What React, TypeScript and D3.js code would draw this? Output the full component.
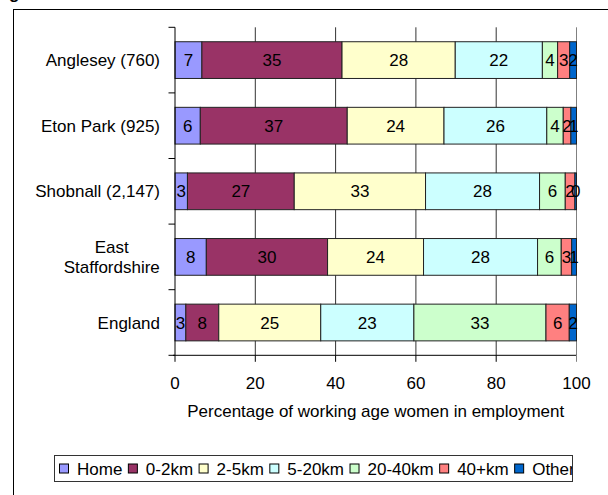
import React, { useEffect, useRef } from "react";
import * as d3 from "d3";

const categories = ["Anglesey (760)", "Eton Park (925)", "Shobnall (2,147)", "East Staffordshire", "England"];
const seriesNames = ["Home", "0-2km", "2-5km", "5-20km", "20-40km", "40+km", "Other"];
const seriesColors = ["#9999FF", "#993366", "#FFFFCC", "#CCFFFF", "#CCFFCC", "#FF8080", "#0066CC"];
const angleseyValues = [6.7, 34.9, 28.2, 21.7, 3.8, 3.0, 1.7];
const etonParkValues = [6.3, 36.6, 24.1, 25.6, 4.1, 1.9, 1.4];
const shobnallValues = [3.1, 26.6, 32.7, 28.4, 6.4, 2.4, 0.4];
const eastStaffsValues = [7.8, 30.2, 23.9, 28.4, 5.9, 2.6, 1.2];
const englandValues = [2.7, 8.2, 25.4, 23.2, 32.9, 5.8, 1.8];
const xTicks = [0, 20, 40, 60, 80, 100];
const xTitle = "Percentage of working age women in employment";

const FONT = "'Liberation Sans', Arial, sans-serif";

export default function App() {
  const ref = useRef<SVGSVGElement | null>(null);

  useEffect(() => {
    const svg = d3.select(ref.current);
    svg.selectAll("*").remove();
    const W = 608, H = 495;
    const left = 175, right = 576.5, top = 27.3, bottom = 355.3;
    const rows = [angleseyValues, etonParkValues, shobnallValues, eastStaffsValues, englandValues];

    svg.append("rect").attr("x", 0).attr("y", 0).attr("width", W).attr("height", H).attr("fill", "#fff");
    // cut-off title fragment
    svg.append("text").attr("x", 9).attr("y", -1).attr("font-family", FONT).attr("font-weight", "bold")
      .attr("font-size", 17).attr("fill", "#000").text("g");
    // outer frame
    svg.append("rect").attr("x", 13.5).attr("y", 9.5).attr("width", W).attr("height", H)
      .attr("fill", "none").attr("stroke", "#000").attr("stroke-width", 1);

    const x = d3.scaleLinear().domain([0, 100]).range([left, right]);
    const y = d3.scaleBand<string>().domain(categories).range([top, bottom]).paddingInner(0.44).paddingOuter(0.22);
    const bandStep = (bottom - top) / categories.length;

    // gridlines
    const g = svg.append("g");
    g.selectAll("line.grid").data(xTicks.slice(1)).enter().append("line")
      .attr("x1", (d) => x(d)).attr("x2", (d) => x(d)).attr("y1", top).attr("y2", bottom)
      .attr("stroke", (d) => (d === 100 ? "#808080" : "#333")).attr("stroke-width", 1);

    // bars
    rows.forEach((vals, i) => {
      const cat = categories[i];
      const y0 = y(cat)!;
      const bh = y.bandwidth();
      let acc = 0;
      vals.forEach((v, j) => {
        const a = acc;
        acc += v;
        g.append("rect").attr("x", x(a)).attr("y", y0).attr("width", x(acc) - x(a)).attr("height", bh)
          .attr("fill", seriesColors[j]).attr("stroke", "#222").attr("stroke-width", 1);
      });
      acc = 0;
      vals.forEach((v) => {
        const a = acc;
        acc += v;
        g.append("text").attr("x", x((a + acc) / 2)).attr("y", y0 + bh / 2 + 6)
          .attr("text-anchor", "middle").attr("font-family", FONT).attr("font-size", 17).attr("fill", "#000")
          .text(String(Math.round(v)));
      });
    });

    // y axis
    g.append("line").attr("x1", left).attr("x2", left).attr("y1", top).attr("y2", bottom).attr("stroke", "#000");
    d3.range(categories.length + 1).forEach((k) => {
      const yy = top + k * bandStep;
      g.append("line").attr("x1", left - 6.5).attr("x2", left).attr("y1", yy).attr("y2", yy).attr("stroke", "#000");
    });
    categories.forEach((c) => {
      const cy = y(c)! + y.bandwidth() / 2;
      if (c === "East Staffordshire") {
        const t = g.append("text").attr("text-anchor", "middle").attr("font-family", FONT).attr("font-size", 17).attr("fill", "#000");
        const w = 96.4;
        const cx = 160 - w / 2;
        t.append("tspan").attr("x", cx).attr("y", cy - 4).text("East");
        t.append("tspan").attr("x", cx).attr("y", cy + 16).text("Staffordshire");
      } else {
        g.append("text").attr("x", 160).attr("y", cy + 6).attr("text-anchor", "end")
          .attr("font-family", FONT).attr("font-size", 17).attr("fill", "#000").text(c);
      }
    });

    // x axis
    g.append("line").attr("x1", left - 2).attr("x2", right).attr("y1", bottom).attr("y2", bottom).attr("stroke", "#000");
    xTicks.forEach((t) => {
      g.append("line").attr("x1", x(t)).attr("x2", x(t)).attr("y1", bottom).attr("y2", bottom + 6.5)
        .attr("stroke", t === 100 ? "#808080" : "#000");
      g.append("text").attr("x", x(t)).attr("y", 389).attr("text-anchor", "middle")
        .attr("font-family", FONT).attr("font-size", 17).attr("fill", "#000").text(String(t));
    });
    g.append("text").attr("x", (left + right) / 2).attr("y", 417).attr("text-anchor", "middle")
      .attr("font-family", FONT).attr("font-size", 17).attr("fill", "#000").text(xTitle);

    // legend
    const lx0 = 54.5, ly0 = 455.5, lx1 = 572.5, ly1 = 481.5;
    svg.append("clipPath").attr("id", "legclip").append("rect")
      .attr("x", lx0).attr("y", ly0).attr("width", lx1 - lx0).attr("height", ly1 - ly0);
    svg.append("rect").attr("x", lx0).attr("y", ly0).attr("width", lx1 - lx0).attr("height", ly1 - ly0)
      .attr("fill", "#fff").attr("stroke", "#333");
    const lg = svg.append("g").attr("clip-path", "url(#legclip)");
    let cx = 59.5;
    seriesNames.forEach((name, j) => {
      lg.append("rect").attr("x", cx).attr("y", 464).attr("width", 9).attr("height", 9)
        .attr("fill", seriesColors[j]).attr("stroke", "#000");
      const t = lg.append("text").attr("x", cx + 17.5).attr("y", 474.5).attr("font-family", FONT)
        .attr("font-size", 17).attr("fill", "#000").text(name);
      const tw = (t.node() as SVGTextElement).getComputedTextLength();
      cx = cx + 17.5 + tw + 6;
    });
    // redraw border on top
    svg.append("rect").attr("x", lx0).attr("y", ly0).attr("width", lx1 - lx0).attr("height", ly1 - ly0)
      .attr("fill", "none").attr("stroke", "#333");
  }, []);

  return (
    <svg ref={ref} width={608} height={495} style={{ position: "absolute", left: 0, top: 0, background: "#fff" }} />
  );
}
